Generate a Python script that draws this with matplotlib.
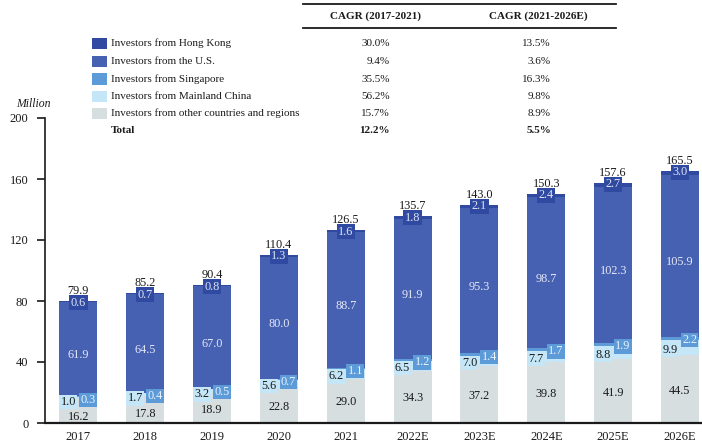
import matplotlib
matplotlib.use("Agg")
import matplotlib.pyplot as plt
import matplotlib.patches as mpatches
from matplotlib.lines import Line2D
import numpy as np

plt.rcParams["font.family"] = ["Liberation Serif", "DejaVu Serif"]

years = ["2017", "2018", "2019", "2020", "2021", "2022E", "2023E", "2024E", "2025E", "2026E"]
other = [16.2, 17.8, 18.9, 22.8, 29.0, 34.3, 37.2, 39.8, 41.9, 44.5]
mainland = [1.0, 1.7, 3.2, 5.6, 6.2, 6.5, 7.0, 7.7, 8.8, 9.9]
singapore = [0.3, 0.4, 0.5, 0.7, 1.1, 1.2, 1.4, 1.7, 1.9, 2.2]
us = [61.9, 64.5, 67.0, 80.0, 88.7, 91.9, 95.3, 98.7, 102.3, 105.9]
hong_kong = [0.6, 0.7, 0.8, 1.3, 1.6, 1.8, 2.1, 2.4, 2.7, 3.0]
totals = [79.9, 85.2, 90.4, 110.4, 126.5, 135.7, 143.0, 150.3, 157.6, 165.5]

legend_labels = ["Investors from Hong Kong", "Investors from the U.S.",
                 "Investors from Singapore", "Investors from Mainland China",
                 "Investors from other countries and regions", "Total"]
cagr_17_21 = ["30.0%", "9.4%", "35.5%", "56.2%", "15.7%", "12.2%"]
cagr_21_26 = ["13.5%", "3.6%", "16.3%", "9.8%", "8.9%", "5.5%"]

C_HK = "#2f4aa0"
C_US = "#4660b2"
C_SG = "#5c9bd8"
C_CN = "#c4e6f7"
C_OT = "#d6dee0"
colors = [C_HK, C_US, C_SG, C_CN, C_OT]
TXT = "#1a1a1a"
FS = 8.8  # bar labels

W, H = 702, 445
fig = plt.figure(figsize=(W / 100, H / 100), dpi=100)


def fx(px):
    return px / W


def fy(py):
    return 1 - py / H


# --- main bar chart ---
ax = fig.add_axes([fx(45), fy(423), 1 - fx(45), fy(118) - fy(423)])
x = np.arange(len(years))
bw = 0.57
o = np.array(other)
m = np.array(mainland)
s = np.array(singapore)
u = np.array(us)
h = np.array(hong_kong)

ax.bar(x, o, bw, color=C_OT, zorder=2)
ax.bar(x, m, bw, bottom=o, color=C_CN, zorder=2)
ax.bar(x, s, bw, bottom=o + m, color=C_SG, zorder=2)
ax.bar(x, u, bw, bottom=o + m + s, color=C_US, zorder=2)
ax.bar(x, h, bw, bottom=o + m + s + u, color=C_HK, zorder=2)

for i in range(len(years)):
    top_low = o[i] + m[i] + s[i]
    cn_y = min(o[i] + m[i] / 2, top_low - 2.3) - 1.5
    sg_y = top_low - 2.3
    ot_y = min(o[i] / 2 - 1, cn_y - 10)
    ax.text(i, ot_y, f"{other[i]:.1f}", ha="center", va="center",
            fontsize=FS, color=TXT, zorder=4)
    ax.text(i - 0.15, cn_y, f"{mainland[i]:.1f}", ha="center", va="center",
            fontsize=FS, color=TXT, zorder=4,
            bbox=dict(boxstyle="square,pad=0.1", fc=C_CN, ec="none"))
    ax.text(i + 0.145, sg_y, f"{singapore[i]:.1f}", ha="center", va="center",
            fontsize=FS, color="#eaf2fc", zorder=5,
            bbox=dict(boxstyle="square,pad=0.1", fc=C_SG, ec="none"))
    ax.text(i, top_low + u[i] / 2 - 4, f"{us[i]:.1f}", ha="center", va="center",
            fontsize=FS, color="#e4e8f6", zorder=4)
    ax.text(i, totals[i] - 1, f"{hong_kong[i]:.1f}", ha="center", va="center",
            fontsize=FS, color="#dfe4f5", zorder=5,
            bbox=dict(boxstyle="square,pad=0.12", fc=C_HK, ec="none"))
    ax.annotate(f"{totals[i]:.1f}", (i, totals[i]), xytext=(0, 7),
                textcoords="offset points", ha="center", va="center",
                fontsize=FS, color=TXT, zorder=5)

ax.set_xlim(-0.5, 9.33)
ax.set_ylim(0, 200)
ax.set_yticks([0, 40, 80, 120, 160, 200])
ax.tick_params(axis="y", direction="out", length=6, width=1.2, labelsize=9,
               colors=TXT, pad=6)
ax.set_xticks(x)
ax.set_xticklabels(years)
ax.tick_params(axis="x", length=0, labelsize=9, colors=TXT, pad=6)
for side in ["top", "right"]:
    ax.spines[side].set_visible(False)
ax.spines["left"].set_linewidth(1.2)
ax.spines["bottom"].set_linewidth(1.6)
ax.spines["left"].set_color(TXT)
ax.spines["bottom"].set_color(TXT)

fig.text(fx(33), fy(104), "Million", ha="center", va="center",
         fontsize=8.5, style="italic", color=TXT)

# --- legend + CAGR table ---
fig.add_artist(Line2D([fx(303), fx(616)], [fy(3.5), fy(3.5)], color=TXT, lw=1.3))
fig.add_artist(Line2D([fx(303), fx(616)], [fy(28), fy(28)], color=TXT, lw=1.3))
fig.text(fx(375), fy(16), "CAGR (2017-2021)", ha="center", va="center",
         fontsize=8, fontweight="bold", color=TXT)
fig.text(fx(538), fy(16), "CAGR (2021-2026E)", ha="center", va="center",
         fontsize=8, fontweight="bold", color=TXT)

row_y = [43.5, 61, 79, 96.5, 113.5, 131]
for k, lab in enumerate(legend_labels):
    bold = "bold" if lab == "Total" else "normal"
    if k < len(colors):
        fig.add_artist(mpatches.Rectangle((fx(92), fy(row_y[k] + 5.5)), fx(15),
                                          fy(row_y[k] - 5.5) - fy(row_y[k] + 5.5),
                                          facecolor=colors[k], edgecolor="none"))
    fig.text(fx(111), fy(row_y[k]), lab, ha="left", va="center", fontsize=8,
             fontweight=bold, color=TXT)
    fig.text(fx(390), fy(row_y[k]), cagr_17_21[k], ha="right", va="center",
             fontsize=8, fontweight=bold, color=TXT)
    fig.text(fx(551), fy(row_y[k]), cagr_21_26[k], ha="right", va="center",
             fontsize=8, fontweight=bold, color=TXT)

fig.savefig("out.png", dpi=100)
plt.close(fig)
